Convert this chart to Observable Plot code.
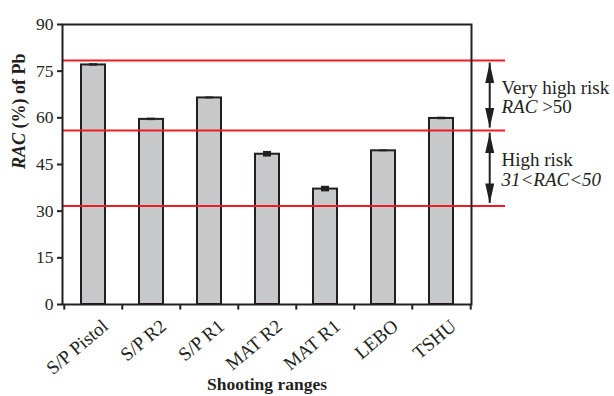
<!DOCTYPE html>
<html>
<head>
<meta charset="utf-8">
<script src="https://cdn.jsdelivr.net/npm/d3@7"></script>
<script src="https://cdn.jsdelivr.net/npm/@observablehq/plot@0.6"></script>
<style>
  html, body { margin: 0; padding: 0; background: #fff; }
  #chart svg { display: block; }
</style>
</head>
<body>
<div id="chart"></div>
<script>
// ---- data ----
const categories = ["S/P Pistol", "S/P R2", "S/P R1", "MAT R2", "MAT R1", "LEBO", "TSHU"];
const values = [77.0, 59.5, 66.4, 48.3, 37.1, 49.4, 59.8];
const errors = [0.4, 0.4, 0.3, 0.9, 0.9, 0.3, 0.4];
const thresholds = [78.4, 55.9, 31.7];
const yTicks = [0, 15, 30, 45, 60, 75, 90];
const zoneLabels = ["Very high risk\nRAC >50", "High risk\n31<RAC<50"];
const yTitle = "RAC (%) of Pb";
const xTitle = "Shooting ranges";

const W = 614, H = 396;
const mL = 62, mR = 143, mT = 24, mB = 92;
const ink = "#231f20";
const step = (W - mL - mR) / categories.length;

const data = categories.map((c, i) => ({cat: c, value: values[i], err: errors[i]}));
const zones = [
  {top: thresholds[0], bottom: thresholds[1], label: zoneLabels[0]},
  {top: thresholds[1], bottom: thresholds[2], label: zoneLabels[1]}
];
const gap = 0.8; // data units between arrow tips and red lines
const arrowDx = (490 - (mL + step * (categories.length - 0.5)));
const last = categories[categories.length - 1];

const chart = Plot.plot({
  width: W, height: H,
  marginLeft: mL, marginRight: mR, marginTop: mT, marginBottom: mB,
  style: {fontFamily: "'Liberation Serif', 'Times New Roman', serif", background: "#fff", color: ink},
  x: {domain: categories, paddingInner: 0.59, paddingOuter: 0.295, label: null, axis: null},
  y: {domain: [0, 90], label: null},
  marks: [
    Plot.barY(data, {x: "cat", y: "value", fill: "#c7c8ca", stroke: ink, strokeWidth: 2}),
    Plot.barY(data, {x: "cat", y1: d => d.value - d.err, y2: d => d.value + d.err,
      fill: ink, insetLeft: 8, insetRight: 8}),
    Plot.ruleY(thresholds, {stroke: "#ed1c24", strokeWidth: 2, insetRight: -34}),
    Plot.frame({stroke: ink, strokeWidth: 2}),
    // band-boundary ticks on the x axis
    Plot.ruleX(categories, {x: d => d, y1: 0, y2: -1.8, dx: -step / 2, stroke: ink, strokeWidth: 2}),
    Plot.ruleX([last], {x: d => d, y1: 0, y2: -1.8, dx: step / 2, stroke: ink, strokeWidth: 2}),
    Plot.axisY({ticks: yTicks, tickSize: 5, tickPadding: 4, fontSize: 17.5, strokeWidth: 2, stroke: ink, fill: ink}),
    // rotated category labels
    Plot.text(categories, {x: d => d, frameAnchor: "bottom", rotate: -40, textAnchor: "end", lineAnchor: "middle",
      dx: 12, dy: 19, fontSize: 19, fill: ink}),
    // risk zone arrows
    Plot.ruleX(zones, {x: () => last, y1: d => d.top - gap, y2: d => d.bottom + gap, dx: arrowDx, stroke: ink, strokeWidth: 2}),
    Plot.vector(zones, {x: () => last, y: d => d.top - gap, dx: arrowDx, shape: "spike", anchor: "end",
      length: 20, r: 4.5, rotate: 0, fill: ink, stroke: "none"}),
    Plot.vector(zones, {x: () => last, y: d => d.bottom + gap, dx: arrowDx, shape: "spike", anchor: "end",
      length: 20, r: 4.5, rotate: 180, fill: ink, stroke: "none"}),
    Plot.text(zones, {y: d => (d.top + d.bottom) / 2, text: "label", frameAnchor: "right", dx: 30, dy: 1.7,
      textAnchor: "start", lineAnchor: "middle", lineHeight: 1.03, fontSize: 19, fill: ink}),
    // titles
    Plot.text([yTitle], {frameAnchor: "left", dx: -43, dy: 4.5, rotate: -90, fontSize: 18, fontWeight: "bold", fill: ink}),
    Plot.text([xTitle], {frameAnchor: "bottom", dy: 85, fontSize: 17.5, fontWeight: "bold", fill: ink})
  ]
});

document.getElementById("chart").appendChild(chart);

// mixed italic styling inside the texts
const svg = d3.select(chart);
svg.selectAll("text").each(function () {
  const t = d3.select(this);
  const kids = t.selectAll("tspan");
  const targets = kids.empty() ? [this] : kids.nodes();
  targets.forEach(node => {
    const s = node.textContent;
    const n = d3.select(node);
    if (s === "RAC >50") {
      n.text(null);
      n.append("tspan").attr("font-style", "italic").text("RAC");
      n.append("tspan").text(" >50");
    } else if (s === "31<RAC<50") {
      n.attr("font-style", "italic");
    } else if (s === yTitle) {
      n.text(null);
      n.append("tspan").attr("font-style", "italic").text("RAC");
      n.append("tspan").text(" (%) of Pb");
    }
  });
});
</script>
</body>
</html>
